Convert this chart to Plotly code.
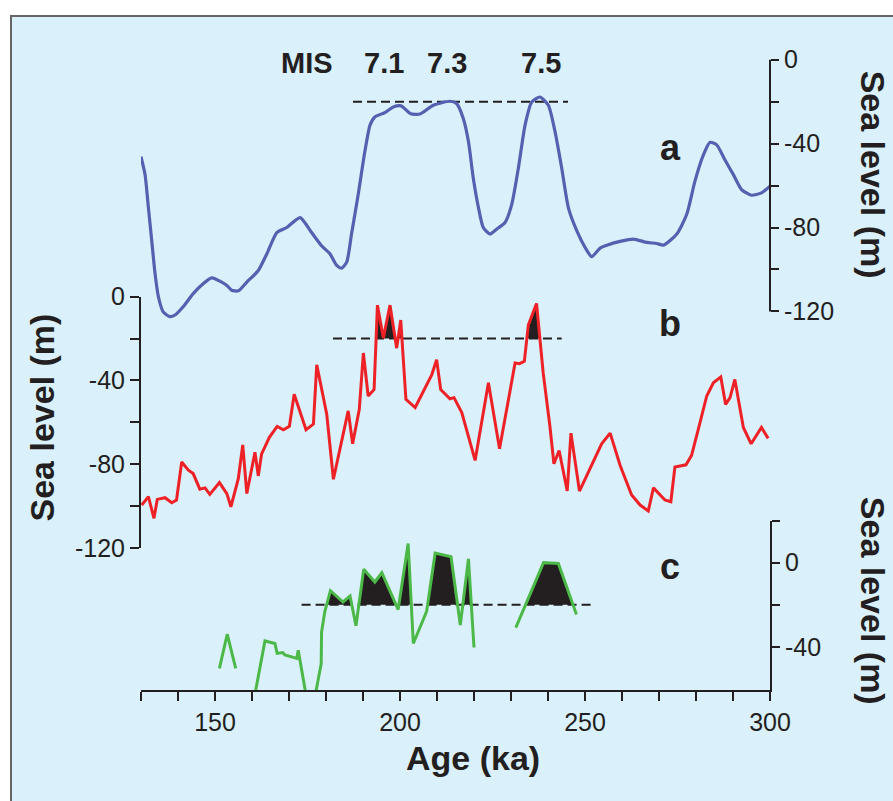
import plotly.graph_objects as go

# ---------------- data ----------------
# (a) smooth sea-level curve (blue)
age_a = [130.0, 131.1, 132.0, 132.9, 133.8, 134.7, 136.0, 137.8, 139.2, 141.4,
         144.1, 146.8, 149.1, 151.8, 153.2, 154.5, 156.3, 158.6, 161.7, 164.0,
         166.7, 169.4, 173.0, 176.1, 178.8, 181.1, 182.9, 184.2, 185.6, 186.9,
         188.7, 190.5, 191.9, 193.2, 195.9, 198.2, 200.3, 202.9, 205.4, 209.0,
         213.5, 215.3, 217.1, 218.5, 219.8, 221.2, 222.5, 224.3, 226.1, 228.4,
         230.2, 232.0, 233.8, 235.6, 237.8, 240.1, 241.9, 243.7, 245.5, 247.8,
         250.0, 251.8, 254.1, 256.3, 259.5, 263.1, 266.7, 269.4, 271.2, 274.8,
         277.5, 279.7, 282.0, 283.8, 285.6, 287.8, 290.1, 292.3, 295.0, 297.7, 300.0]
sea_a = [-46.2, -54.8, -70.5, -86.3, -102.0, -113.0, -120.2, -122.5, -121.7, -117.8,
         -111.5, -106.8, -104.0, -106.0, -107.6, -109.9, -110.2, -106.0, -100.5, -92.6,
         -82.4, -80.0, -75.3, -82.4, -88.7, -92.6, -98.1, -99.4, -96.5, -83.1,
         -64.3, -43.8, -31.2, -27.3, -25.2, -22.5, -22.0, -25.8, -25.9, -21.7,
         -19.8, -20.9, -28.0, -39.0, -56.4, -70.5, -80.0, -83.1, -80.8, -77.6,
         -69.0, -51.6, -31.2, -20.2, -17.8, -21.7, -34.3, -51.6, -70.5, -81.6,
         -89.4, -93.9, -89.8, -88.2, -86.6, -85.5, -87.1, -87.6, -88.4, -83.1,
         -73.7, -58.0, -45.4, -39.4, -40.6, -47.7, -54.8, -61.9, -64.6, -63.5, -60.3]

# (b) sea-level record (red)
age_b = [130.2, 132.0, 133.5, 134.4, 136.5, 138.3, 139.6, 141.0, 142.8, 144.1,
         145.9, 147.3, 148.6, 151.2, 153.2, 154.3, 156.3, 157.5, 158.6, 160.8,
         161.7, 162.6, 164.7, 166.8, 168.5, 170.1, 171.4, 174.6, 176.6, 177.5,
         180.2, 182.0, 186.0, 187.2, 189.0, 190.1, 191.4, 193.0, 193.9, 195.5,
         197.3, 199.1, 200.2, 201.6, 204.1, 208.6, 209.9, 211.0, 213.5, 214.6,
         216.7, 218.5, 220.3, 223.9, 226.9, 231.1, 232.3, 233.6, 234.7, 236.9,
         238.7, 240.5, 241.6, 243.0, 245.2, 246.2, 248.5, 254.5, 256.8, 259.5,
         262.6, 264.9, 267.1, 268.5, 271.6, 273.2, 274.3, 277.3, 278.8, 281.1,
         282.9, 284.7, 286.7, 288.0, 289.2, 290.5, 292.8, 294.9, 297.7, 299.5]
sea_b = [-99.4, -95.4, -105.7, -96.7, -95.9, -98.3, -97.0, -78.9, -82.8, -84.4,
         -91.8, -91.2, -94.3, -88.7, -93.9, -100.2, -86.8, -70.7, -93.9, -74.2,
         -85.5, -75.0, -67.1, -61.9, -63.5, -61.9, -46.6, -63.5, -60.8, -32.5,
         -56.1, -87.1, -54.5, -70.2, -53.7, -26.9, -47.4, -44.3, -4.1, -19.8,
         -4.1, -24.6, -11.2, -49.0, -52.9, -37.2, -30.1, -44.3, -48.7, -48.2,
         -55.3, -66.3, -78.1, -41.1, -72.6, -31.7, -32.0, -30.9, -13.5, -3.3,
         -36.4, -61.6, -79.7, -73.4, -92.7, -65.1, -92.7, -70.2, -65.1, -80.5,
         -94.6, -99.4, -102.2, -91.2, -97.0, -97.8, -81.3, -80.2, -75.7, -60.0,
         -47.4, -41.1, -38.3, -51.4, -48.2, -39.5, -62.4, -70.2, -62.4, -67.6]

# (c) sea-level record (green), None = gap in record
age_c = [151.2, 153.3, 155.6, None,
         160.0, 163.5, 166.2, 166.8, 168.3, 168.9, 172.1, 172.5, 175.8, 178.7,
         178.8, 179.7, 181.2, 184.6, 186.5, 188.1, 190.2, 193.2, 195.1, 199.5,
         202.2, 203.6, 207.2, 209.5, 213.8, 216.3, 218.5, 220.0, None,
         231.3, 238.8, 242.8, 247.7]
sea_c = [-50.2, -34.0, -50.2, None,
         -70.0, -37.2, -38.4, -43.1, -42.7, -43.9, -45.5, -41.6, -75.0, -48.0,
         -33.0, -23.1, -13.3, -18.7, -15.9, -30.0, -3.1, -9.2, -4.8, -22.3,
         9.1, -38.4, -23.1, 4.5, 2.8, -29.6, 1.8, -40.3, None,
         -30.9, 0.0, -0.4, -24.6]

# reference level (m) and extent (ka) of the dashed lines
ref_level = -20
dash_a = [187.3, 245.4]
dash_b = [181.9, 243.7]
dash_c = [173.4, 251.8]

# tick labels
x_ticks = [130, 140, 150, 160, 170, 180, 190, 200, 210, 220, 230, 240, 250, 260, 270, 280, 290, 300]
x_labels = ["", "", "150", "", "", "", "", "200", "", "", "", "", "250", "", "", "", "", "300"]
ya_ticks = [0, -20, -40, -60, -80, -100, -120]
ya_labels = ["0", "", "-40", "", "-80", "", "-120"]
yb_ticks = ya_ticks
yb_labels = ya_labels
yc_ticks = [20, 0, -20, -40]
yc_labels = ["", "0", "", "-40"]

mis_labels = ["MIS", "7.1", "7.3", "7.5"]
panel_labels = ["a", "b", "c"]

# ---------------- styling / layout helpers ----------------
W, H = 893, 801
ML, MR, MT, MB = 141, 123, 20, 111
PW, PH = W - ML - MR, H - MT - MB
X0PX, Y0PX = ML, H - MB  # plot-area left / bottom in px


def px2paper(px, py):
    return (px - X0PX) / PW, (Y0PX - py) / PH


def dom(top_px, bottom_px):
    return [(Y0PX - bottom_px) / PH, (Y0PX - top_px) / PH]


BLUE = "#5461b0"
RED = "#ee2226"
GREEN = "#4cb848"
BLACK = "#231f20"
BG = "#daf0fa"
FONT = "Arial, Liberation Sans, sans-serif"


def fill_polygons(xs, ys, level):
    """Polygons of the area where the curve is above `level`."""
    segs, cur = [], []
    for x, y in zip(xs, ys):
        if x is None:
            if cur:
                segs.append(cur)
            cur = []
        else:
            cur.append((x, y))
    if cur:
        segs.append(cur)
    px, py = [], []
    for seg in segs:
        poly = []
        for i, (x, y) in enumerate(seg):
            if i > 0:
                xp, yp = seg[i - 1]
                if (yp - level) * (y - level) < 0:
                    t = (level - yp) / (y - yp)
                    poly.append((xp + t * (x - xp), level))
            poly.append((x, max(y, level)))
        piece = []
        for (x, y) in poly:
            if y > level:
                piece.append((x, y))
            else:
                if piece:
                    piece.append((x, level))
                    px += [p[0] for p in piece] + [piece[0][0], None]
                    py += [p[1] for p in piece] + [level, None]
                piece = [(x, level)]
        if len(piece) > 1:
            piece.append((piece[-1][0], level))
            px += [p[0] for p in piece] + [piece[0][0], None]
            py += [p[1] for p in piece] + [level, None]
    return px, py


fig = go.Figure()

# fills (b, c)
fxb, fyb = fill_polygons(age_b, sea_b, ref_level)
fig.add_trace(go.Scatter(x=fxb, y=fyb, fill="toself", fillcolor=BLACK, mode="lines",
                         line=dict(width=0, color=BLACK), xaxis="x", yaxis="y3",
                         showlegend=False, hoverinfo="skip"))
fxc, fyc = fill_polygons(age_c, sea_c, ref_level)
fig.add_trace(go.Scatter(x=fxc, y=fyc, fill="toself", fillcolor=BLACK, mode="lines",
                         line=dict(width=0, color=BLACK), xaxis="x", yaxis="y",
                         showlegend=False, hoverinfo="skip"))

# dashed reference lines
for span, ya in [(dash_a, "y2"), (dash_b, "y3"), (dash_c, "y")]:
    fig.add_trace(go.Scatter(x=span, y=[ref_level, ref_level], mode="lines",
                             line=dict(color=BLACK, width=2, dash="9px,5px"),
                             xaxis="x", yaxis=ya, showlegend=False, hoverinfo="skip"))

# curves
fig.add_trace(go.Scatter(x=age_a, y=sea_a, mode="lines",
                         line=dict(color=BLUE, width=3.2, shape="spline", smoothing=0.6),
                         xaxis="x", yaxis="y2", showlegend=False))
fig.add_trace(go.Scatter(x=age_b, y=sea_b, mode="lines", line=dict(color=RED, width=3),
                         xaxis="x", yaxis="y3", showlegend=False))
fig.add_trace(go.Scatter(x=age_c, y=sea_c, mode="lines", line=dict(color=GREEN, width=3),
                         connectgaps=False, xaxis="x", yaxis="y", showlegend=False))

tickfont = dict(family=FONT, size=25, color=BLACK)

fig.update_layout(
    width=W, height=H,
    margin=dict(l=ML, r=MR, t=MT, b=MB, pad=0),
    paper_bgcolor="white",
    plot_bgcolor="rgba(0,0,0,0)",
    xaxis=dict(range=[130, 300], domain=[0, 1], anchor="y",
               showline=True, linecolor=BLACK, linewidth=2,
               ticks="outside", ticklen=9, tickwidth=2, tickcolor=BLACK,
               tickvals=x_ticks, ticktext=x_labels, tickfont=tickfont,
               showgrid=False, zeroline=False),
    # panel c (right axis)
    yaxis=dict(range=[-60.5, 20], domain=dom(519, 690), anchor="x", side="right",
               showline=True, linecolor=BLACK, linewidth=2,
               ticks="outside", ticklen=8, tickwidth=2, tickcolor=BLACK,
               tickvals=yc_ticks, ticktext=yc_labels, tickfont=tickfont,
               showgrid=False, zeroline=False),
    # panel a (right axis, line drawn as shape)
    yaxis2=dict(range=[-125, 2], domain=dom(54 - 2 * 254 / 120, 308 + 5 * 254 / 120),
                anchor="x", side="right", showline=False,
                ticks="outside", ticklen=8, tickwidth=2, tickcolor=BLACK,
                tickvals=ya_ticks, ticktext=ya_labels, tickfont=tickfont,
                showgrid=False, zeroline=False),
    # panel b (left axis)
    yaxis3=dict(range=[-120, 0], domain=dom(293, 547), anchor="x", side="left",
                showline=True, linecolor=BLACK, linewidth=2,
                ticks="outside", ticklen=9, tickwidth=2, tickcolor=BLACK,
                tickvals=yb_ticks, ticktext=yb_labels, tickfont=tickfont,
                showgrid=False, zeroline=False),
)

# background panel with border
bx0, by0 = px2paper(11, 10)
bx1, by1 = px2paper(W + 20, H + 20)
fig.add_shape(type="rect", xref="paper", yref="paper", x0=bx0, y0=by1, x1=bx1, y1=by0,
              fillcolor=BG, line=dict(color="#666666", width=2), layer="below")
# axis line of panel a
fig.add_shape(type="line", xref="paper", yref="y2", x0=1, x1=1, y0=0, y1=-120,
              line=dict(color=BLACK, width=2))


def ann(text, px, py, size, bold=True, angle=0):
    xp, yp = px2paper(px, py)
    fig.add_annotation(text=f"<b>{text}</b>" if bold else text, x=xp, y=yp,
                       xref="paper", yref="paper", xanchor="center", yanchor="middle",
                       showarrow=False, textangle=angle,
                       font=dict(family=FONT, size=size, color=BLACK))


for lab, px in zip(mis_labels, [307, 384, 447, 541]):
    ann(lab, px, 57, 29)
for lab, py in zip(panel_labels, [143, 320, 565]):
    ann(lab, 670, py, 36)

ann("Sea level (m)", 42, 415, 34, angle=-90)
ann("Sea level (m)", 873, 170, 34, angle=90)
ann("Sea level (m)", 873, 600, 34, angle=90)
ann("Age (ka)", 473, 759, 34)

fig.write_html("out.html",
               config={"displayModeBar": False},
               post_script="document.body.style.margin='0';document.body.style.overflow='hidden';")
